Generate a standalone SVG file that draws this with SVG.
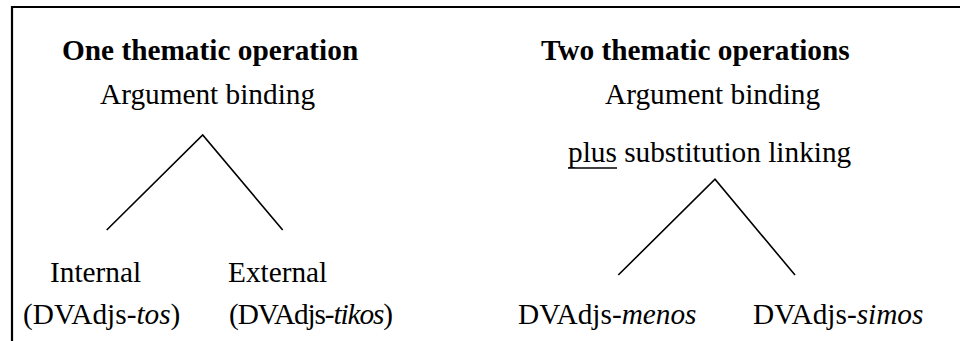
<svg xmlns="http://www.w3.org/2000/svg" width="960" height="341" viewBox="0 0 960 341">
<style>
text{font-family:"Liberation Serif","Times New Roman",serif;font-size:29.3px;fill:#000}
.b{font-weight:bold}
.i{font-style:italic}
.ln{stroke:#000;stroke-width:1.6;fill:none}
.bd{stroke:#000;stroke-width:2.2;fill:none}
</style>
<rect width="960" height="341" fill="#fff"/>
<g id="frame">
<line class="bd" x1="11" y1="7" x2="960" y2="7"/>
<line class="bd" x1="12" y1="6" x2="12" y2="341"/>
</g>
<g id="connectors">
<polyline class="ln" points="106.7,230 202.7,135 282.7,230"/>
<polyline class="ln" points="618.3,275 715,179.3 795,275"/>
</g>
<g id="title-left"><text class="b" x="62" y="60">One thematic operation</text></g>
<g id="title-right"><text class="b" x="541" y="60">Two thematic operations</text></g>
<g id="node-left-root"><text x="100" y="104">Argument binding</text></g>
<g id="node-right-root">
<text x="605" y="104">Argument binding</text>
<text x="568" y="162">plus substitution linking</text>
<line x1="568" y1="168" x2="617" y2="168" stroke="#000" stroke-width="1.5"/>
</g>
<g id="node-internal">
<text x="50" y="282">Internal</text>
<text x="23" y="324">(DVAdjs-<tspan class="i">tos</tspan>)</text>
</g>
<g id="node-external">
<text x="228" y="282">External</text>
<text x="229" y="324" textLength="164" lengthAdjust="spacing">(DVAdjs-<tspan class="i">tikos</tspan>)</text>
</g>
<g id="node-menos"><text x="518" y="324">DVAdjs-<tspan class="i">menos</tspan></text></g>
<g id="node-simos"><text x="753" y="324">DVAdjs-<tspan class="i">simos</tspan></text></g>
</svg>
